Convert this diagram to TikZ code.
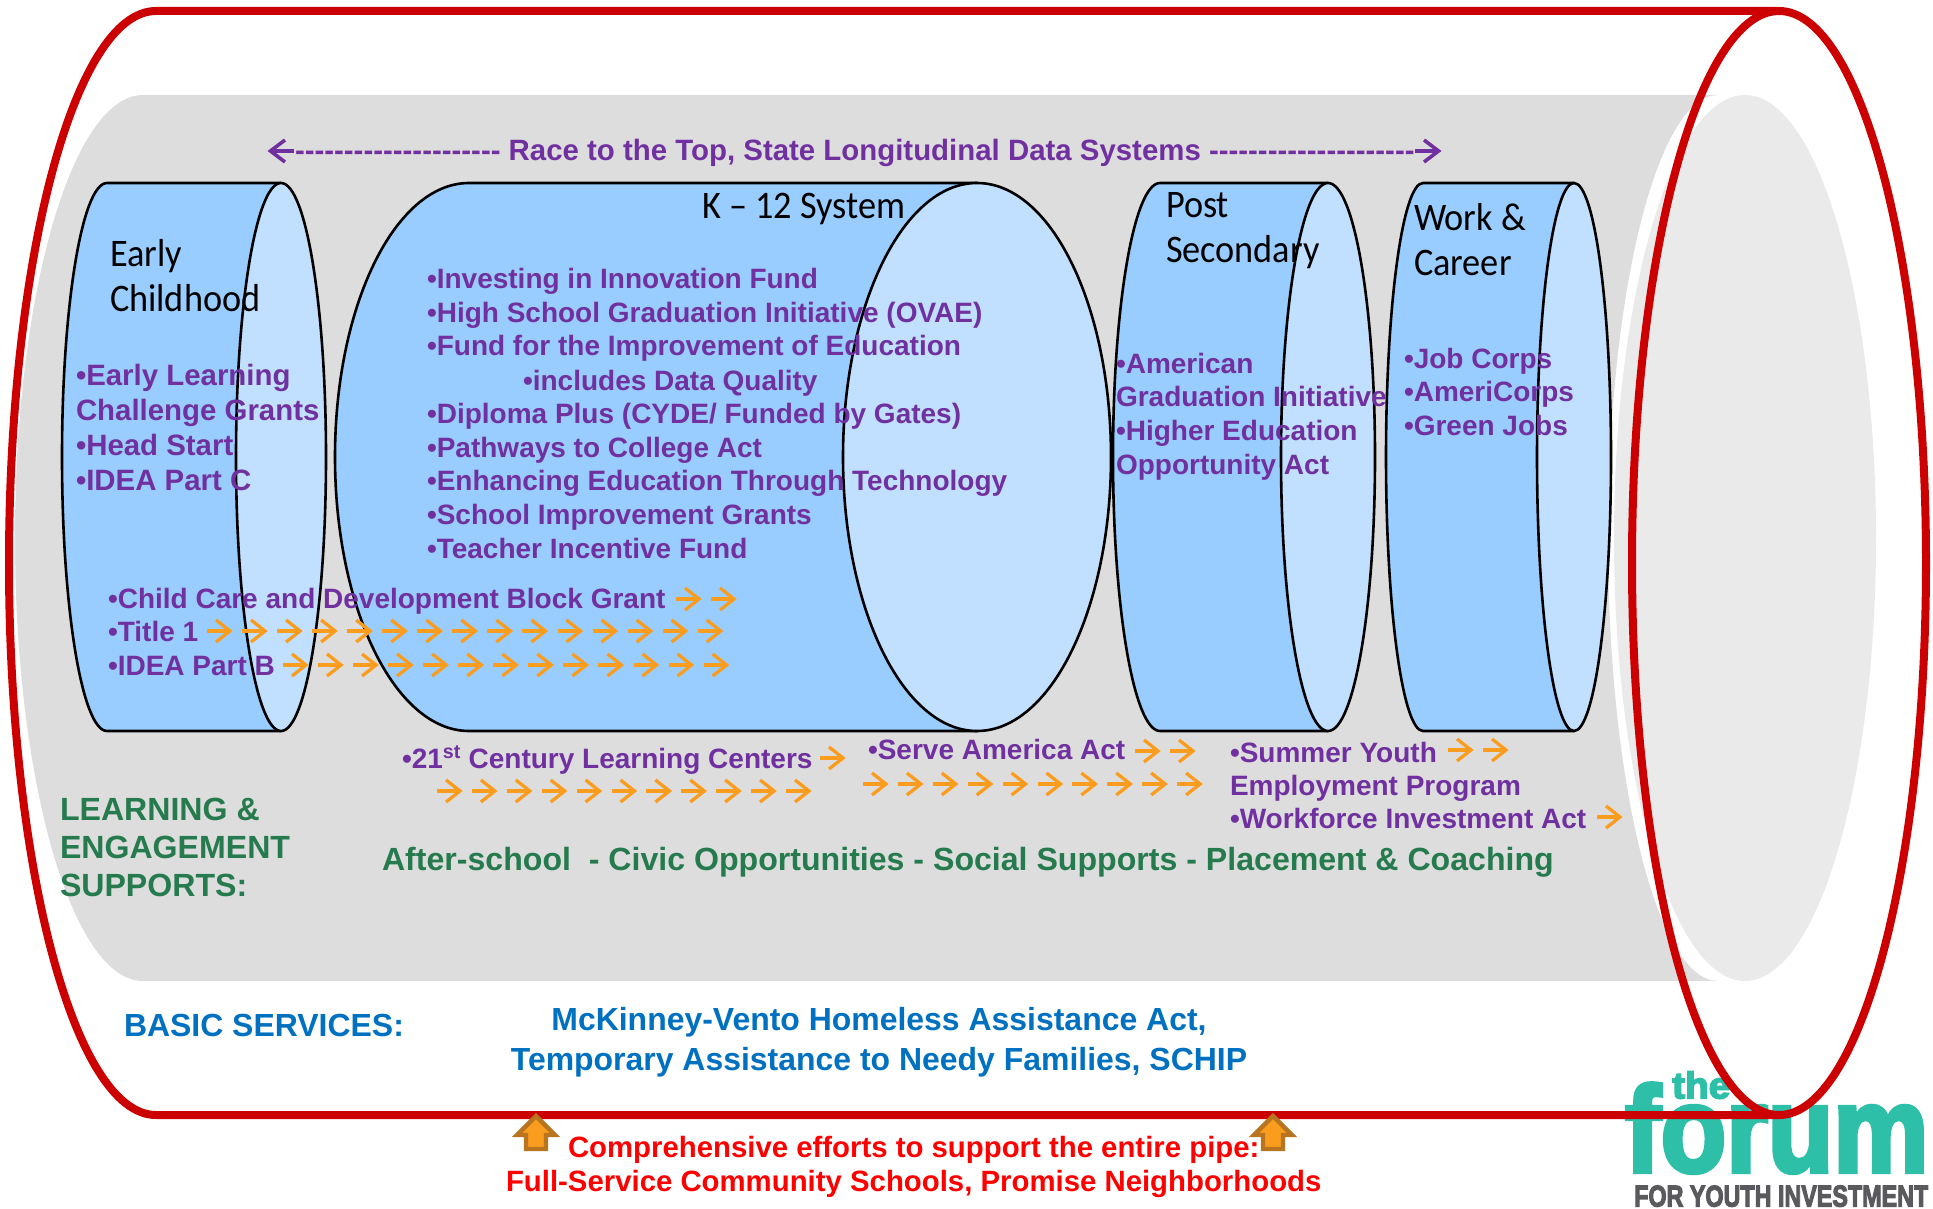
\documentclass[tikz,border=0pt]{standalone}
\usepackage{fontspec}
\usepackage{graphicx}
\setmainfont{Liberation Sans}
\newfontfamily\titlefont[FakeStretch=0.93]{Carlito}
\newfontfamily\logofont{Liberation Sans}[BoldFeatures={FakeBold=4}]
\definecolor{purp}{HTML}{7030A0}
\definecolor{grn}{HTML}{267B4E}
\definecolor{blu}{HTML}{0070C0}
\definecolor{redline}{HTML}{CC0000}
\definecolor{body}{HTML}{99CCFF}
\definecolor{capc}{HTML}{C1E0FF}
\definecolor{graybody}{HTML}{DDDDDD}
\definecolor{grayend}{HTML}{EAEAEA}
\definecolor{orng}{HTML}{FA9D1E}
\definecolor{orngedge}{HTML}{B8741E}
\definecolor{teal}{HTML}{2EBFA9}
\definecolor{logogray}{HTML}{5A5A5E}
\tikzset{
  x=1pt,y=-1pt,
  txt/.style={anchor=base west,inner sep=0pt,outer sep=0pt,align=left},
  pur/.style={txt,text=purp,font=\fontsize{28}{34}\selectfont\bfseries},
  purbig/.style={txt,text=purp,font=\fontsize{29.4}{34}\selectfont\bfseries},
  ttl/.style={txt,text=black,font=\fontsize{39}{45}\selectfont\titlefont},
  gre/.style={txt,text=grn,font=\fontsize{32.1}{38}\selectfont\bfseries},
  blue/.style={txt,text=blu,font=\fontsize{31.95}{38}\selectfont\bfseries},
  redt/.style={txt,text=red,font=\fontsize{29.35}{35}\selectfont\bfseries},
  cylbody/.style={fill=body,draw=black,line width=2.6pt,line join=round},
  cylcap/.style={fill=capc,draw=black,line width=2.6pt},
  orarrow/.style={draw=orng,line width=3.3pt,line cap=butt,miter limit=10},
  pparrow/.style={draw=purp,line width=3.6pt},
  uparrow/.style={fill=orng,draw=orngedge,line width=4.4pt,miter limit=10},
}
\newcommand\cyl[3]{%
  \pgfmathsetmacro\kx{#3*0.5523}
  \draw[cylbody] (#1,183) -- (#2,183) -- (#2,731) -- (#1,731)
    .. controls ({#1-\kx},731) and ({#1-#3},608.3) .. ({#1-#3},457)
    .. controls ({#1-#3},305.7) and ({#1-\kx},183) .. (#1,183) -- cycle;
  \draw[cylcap] (#2,457) ellipse [x radius=#3,y radius=274];
}
\newcommand\orarr[2]{%
  \draw[orarrow] (#1,#2) -- ({#1+22},#2);
  \draw[orarrow] ({#1+9},{#2-11}) -- ({#1+23},#2) -- ({#1+9},{#2+11});
}
\newcommand\orrow[4]{%
  \foreach \i in {1,...,#3} {\pgfmathsetmacro\xx{#1+(\i-1)*#4}\orarr{\xx}{#2}}
}
\newcommand\uparr[2]{%
  \draw[uparrow] (#1,{#2+3}) -- ({#1+19},{#2+22}) -- ({#1+10},{#2+22}) -- ({#1+10},{#2+36})
    -- ({#1-10},{#2+36}) -- ({#1-10},{#2+22}) -- ({#1-19},{#2+22}) -- cycle;
}
\newcommand\dsh{\mbox{-}}
\newcommand\dashrun{\dsh\dsh\dsh\dsh\dsh\dsh\dsh\dsh\dsh\dsh\dsh\dsh\dsh\dsh\dsh\dsh\dsh\dsh\dsh\dsh\dsh}
\begin{document}
\begin{tikzpicture}
\useasboundingbox (0,0) rectangle (1933,1209);
% grey pipe
\fill[graybody] (143,95) -- (1718,95)
  .. controls (1657.2,95) and (1608,293.7) .. (1608,538)
  .. controls (1608,782.3) and (1657.2,981) .. (1718,981)
  -- (143,981)
  .. controls (72.3,981) and (15,782.3) .. (15,538)
  .. controls (15,293.7) and (72.3,95) .. (143,95) -- cycle;
\fill[grayend] (1745,538) ellipse [x radius=131,y radius=443];
% cylinders
\cyl{107}{281}{45}
\cyl{469}{977}{134}
\cyl{1160}{1328}{47}
\cyl{1423}{1574}{37}
% titles
\node[ttl] (tEarly) at (110,266) {Early};
\node[ttl] (tChild) at (110,311) {Childhood};
\node[ttl] (tK) at (702,219) {K – 12 System};
\node[ttl] (tPost) at (1166,218) {Post};
\node[ttl] (tSec) at (1166,262) {Secondary};
\node[ttl] (tWork) at (1414,230) {Work \&};
\node[ttl] (tCar) at (1414,275) {Career};
% Race line
\node[purbig] (race) at (295,160.5) {\dashrun{} Race to the Top, State Longitudinal Data Systems \dashrun};
\draw[pparrow] (271,151) -- (294,151);
\draw[pparrow] (285,140) -- (270.5,151) -- (285,162);
\draw[pparrow] (1415,151) -- (1438,151);
\draw[pparrow] (1424,140) -- (1438.5,151) -- (1424,162);
% early
\node[purbig] (e1) at (76,385) {•Early Learning};
\node[purbig] (e2) at (76,420) {Challenge Grants};
\node[purbig] (e3) at (76,455) {•Head Start};
\node[purbig] (e4) at (76,490) {•IDEA Part C};
% k12
\node[pur] (k1) at (427,288) {•Investing in Innovation Fund};
\node[pur] (k2) at (427,322) {•High School Graduation Initiative (OVAE)};
\node[pur] (k3) at (427,355) {•Fund for the Improvement of Education};
\node[pur] (k4) at (523,390) {•includes Data Quality};
\node[pur] (k5) at (427,423) {•Diploma Plus (CYDE/ Funded by Gates)};
\node[pur] (k6) at (427,457) {•Pathways to College Act};
\node[pur] (k7) at (427,490) {•Enhancing Education Through Technology};
\node[pur] (k8) at (427,524) {•School Improvement Grants};
\node[pur] (k9) at (427,558) {•Teacher Incentive Fund};
% post
\node[pur] (p1) at (1116,373) {•American};
\node[pur] (p2) at (1116,406) {Graduation Initiative};
\node[pur] (p3) at (1116,440) {•Higher Education};
\node[pur] (p4) at (1116,474) {Opportunity Act};
% work
\node[pur] (w1) at (1404,368) {•Job Corps};
\node[pur] (w2) at (1404,401) {•AmeriCorps};
\node[pur] (w3) at (1404,435) {•Green Jobs};
% cross-cutting
\node[pur] (c1) at (108,608) {•Child Care and Development Block Grant};
\node[pur] (c2) at (108,641) {•Title 1};
\node[pur] (c3) at (108,675) {•IDEA Part B};
\orrow{676}{599}{2}{35}
\orrow{207}{631}{15}{35.05}
\orrow{283}{665}{13}{35.05}
\node[pur] (a1) at (402,768) {•21\textsuperscript{st} Century Learning Centers};
\orarr{820}{758}
\orrow{437}{791}{11}{34.9}
\node[pur] (a2) at (868,759) {•Serve America Act};
\orrow{1135}{751}{2}{35}
\orrow{863}{784}{10}{34.9}
\node[pur] (a3) at (1230,762) {•Summer Youth};
\orrow{1448}{750}{2}{35}
\node[pur] (a4) at (1230,795) {Employment Program};
\node[pur] (a5) at (1230,828) {•Workforce Investment Act};
\orarr{1597}{817}
% green
\node[gre] (g1) at (60,820) {LEARNING \&};
\node[gre] (g2) at (60,858) {ENGAGEMENT};
\node[gre] (g3) at (60,896) {SUPPORTS:};
\node[gre] (g4) at (382,870) {After-school\ \ - Civic Opportunities - Social Supports - Placement \& Coaching};
% blue
\node[blue] (b1) at (124,1036) {BASIC SERVICES:};
\node[blue,anchor=base] (b2) at (879,1030) {McKinney-Vento Homeless Assistance Act,};
\node[blue,anchor=base] (b3) at (879,1070) {Temporary Assistance to Needy Families, SCHIP};
% logo
\node[anchor=south west,inner sep=0pt,text=teal] (lthe) at (1672,1099) {\resizebox{58pt}{27pt}{\logofont\bfseries the}};
\node[anchor=south west,inner sep=0pt,text=teal] (lforum) at (1625,1173) {\resizebox{303pt}{88pt}{\logofont\bfseries forum}};
\node[anchor=south west,inner sep=0pt,text=logogray] (lfyi) at (1634,1207) {\resizebox{294pt}{21pt}{\logofont\bfseries FOR YOUTH INVESTMENT}};
% red outer pipe
\draw[redline,line width=8pt,line join=round] (1779,11) -- (156,11)
  .. controls (74.8,11) and (9,258.1) .. (9,563)
  .. controls (9,867.9) and (74.8,1115) .. (156,1115) -- (1779,1115);
\draw[redline,line width=8pt] (1779,563) ellipse [x radius=147,y radius=552];
% up arrows
\uparr{536}{1113}
\uparr{1273}{1113}
% red text
\node[redt] (r1) at (568,1157) {Comprehensive efforts to support the entire pipe:};
\node[redt] (r2) at (506,1191) {Full-Service Community Schools, Promise Neighborhoods};
\end{tikzpicture}
\end{document}
